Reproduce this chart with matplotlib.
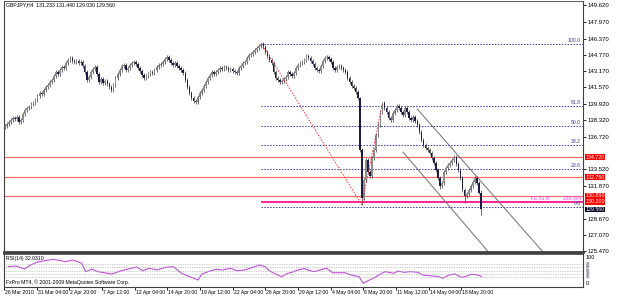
import matplotlib.pyplot as plt

plt.rcParams['font.family'] = ['Liberation Sans', 'DejaVu Sans']

# GBPJPY H4 closes, one per bar, bar 0 = 26 Mar 2010 12:00
closes = [
    137.57, 137.67, 137.77, 137.97, 138.16, 138.36, 138.56, 138.46, 138.66, 138.16,
    138.36, 138.95, 139.34, 139.54, 139.64, 139.93, 140.03, 140.33, 140.72, 141.02,
    140.92, 141.31, 141.61, 141.80, 142.10, 142.29, 142.69, 143.08, 142.88, 143.28,
    143.57, 143.47, 143.97, 144.26, 144.46, 144.16, 144.06, 144.16, 143.97, 144.06,
    143.67, 143.08, 142.29, 142.59, 143.08, 143.38, 143.57, 142.88, 142.10, 142.39,
    142.00, 142.20, 141.90, 141.61, 141.31, 141.80, 142.49, 142.88, 143.28, 143.67,
    143.77, 143.28, 143.47, 143.77, 143.97, 144.06, 143.87, 143.47, 143.18, 142.79,
    142.49, 142.69, 142.88, 143.08, 142.98, 143.28, 143.57, 143.77, 143.87, 144.06,
    144.36, 144.56, 144.26, 143.97, 143.77, 143.97, 143.67, 143.47, 143.28, 142.98,
    142.29, 141.61, 141.02, 140.53, 140.23, 140.13, 140.62, 141.02, 141.31, 141.70,
    142.10, 142.49, 142.79, 143.08, 142.88, 143.08, 143.28, 143.47, 143.38, 143.57,
    143.47, 143.28, 143.38, 143.18, 143.08, 142.98, 143.47, 143.67, 143.97, 144.06,
    144.46, 144.75, 144.85, 145.05, 145.24, 145.44, 145.64, 145.83, 145.54, 145.05,
    144.65, 144.26, 143.97, 143.08, 142.49, 142.29, 142.10, 142.20, 142.39, 142.59,
    143.08, 142.88, 142.69, 142.98, 143.47, 143.77, 143.97, 144.06, 144.26, 144.65,
    144.46, 144.16, 143.87, 143.47, 143.28, 143.18, 143.67, 144.16, 144.46, 144.56,
    144.36, 144.06, 143.47, 143.28, 143.57, 143.67, 143.47, 143.28, 143.08, 142.49,
    142.10, 141.70, 141.51, 141.11, 140.53, 135.41, 130.69, 132.46, 134.43, 133.25,
    132.85, 134.62, 135.41, 136.89, 137.87, 139.15, 140.03, 139.54, 139.15, 138.56,
    138.36, 139.05, 139.34, 139.74, 139.54, 139.15, 138.85, 139.54, 139.15, 138.56,
    138.36, 138.66, 138.26, 137.87, 137.18, 136.39, 135.90, 135.61, 135.41, 135.12,
    134.62, 134.13, 133.44, 132.66, 131.87, 132.17, 133.25, 133.64, 133.94, 134.13,
    134.43, 134.72, 134.03, 133.44, 132.66, 131.48, 130.89, 131.08, 131.48, 131.87,
    132.26, 132.66, 132.17, 131.23, 129.56,
]
first_open = 137.47
extra_highs = {127: 145.93, 186: 140.13, 175: 140.60, 234: 131.44}
extra_lows = {176: 130.00, 214: 131.60, 226: 130.20, 234: 129.03}

# RSI(14), sampled along the curve
rsi_bars = [2, 6, 10, 13, 17, 20, 24, 28, 30, 34, 38, 40, 43, 46, 50, 53, 57, 61, 65, 68,
            71, 75, 79, 83, 85, 87, 91, 95, 97, 101, 104, 107, 111, 114, 118, 122, 125, 128,
            130, 134, 136, 139, 141, 144, 147, 149, 152, 156, 158, 161, 164, 167, 170, 174,
            176, 179, 181, 185, 187, 191, 193, 196, 199, 203, 205, 209, 213, 215, 218, 221,
            224, 226, 229, 232, 234]
rsi_values = [61.5, 63.6, 54.5, 66.7, 76.7, 79.7, 83.9, 79.7, 76.7, 81.8, 71.8, 46.4, 54.5,
              46.4, 42.4, 39.4, 48.5, 54.5, 60.6, 49.4, 56.7, 51.5, 59.7, 61.5, 51.5, 41.5,
              31.2, 21.2, 39.4, 48.5, 53.6, 51.5, 56.7, 49.4, 51.5, 59.7, 66.7, 61.5, 49.4,
              36.4, 31.2, 41.5, 44.5, 51.5, 56.0, 51.5, 46.4, 53.6, 56.7, 43.3, 43.3, 43.3,
              36.4, 31.2, 11.2, 21.2, 26.4, 41.5, 46.4, 41.5, 48.5, 44.5, 46.4, 44.5, 36.4,
              34.2, 31.2, 26.4, 36.4, 39.4, 29.4, 31.2, 38.5, 36.4, 32.0]
rsi_levels = [70, 60, 50, 40, 30]

# objects drawn on the chart
fib_start = 127
fib_high = 145.83
fib_low = 129.80
fib_levels = [100.0, 61.8, 50.0, 38.2, 23.6, 0.0]
trend_bars = [127, 176, 186]
trend_prices = [145.93, 130.00, 140.03]
upper_chan_bars = [203, 265]
upper_chan_prices = [139.44, 125.20]
lower_chan_bars = [196, 238]
lower_chan_prices = [135.21, 125.30]
red_lines = [134.72, 132.75, 130.89]
fe_price = 130.30
fe_value = '130.064'
bid = 129.56

# 135.120 and 130.270 sit under the line labels, so they are not printed
price_ticks = [149.62, 147.97, 146.37, 144.77, 143.17, 141.57, 139.92, 138.32, 136.72,
               133.52, 131.87, 128.67, 127.07, 125.47]
date_bars = [0, 16, 32, 48, 64, 80, 96, 112, 128, 144, 160, 176, 192, 208, 224]
date_labels = ['26 Mar 2010', '31 Mar 04:00', '2 Apr 20:00', '7 Apr 12:00', '12 Apr 04:00',
               '14 Apr 20:00', '19 Apr 12:00', '22 Apr 04:00', '26 Apr 20:00', '29 Apr 12:00',
               '4 May 04:00', '6 May 20:00', '11 May 12:00', '14 May 04:00', '18 May 20:00']

W, H = 625, 298
fig = plt.figure(figsize=(W / 100, H / 100), dpi=100)
ax = fig.add_axes([4 / W, (H - 252) / H, 579 / W, 251 / H])
ax2 = fig.add_axes([4 / W, (H - 287) / H, 579 / W, 33 / H])
x0, x1 = 1.7, 283.7
small = 3.7

# candles
wick = 0.18
for i, c in enumerate(closes):
    o = closes[i - 1] if i > 0 else first_open
    hi = extra_highs.get(i, max(o, c) + wick)
    lo = extra_lows.get(i, min(o, c) - wick)
    ax.vlines(i, lo, hi, color='#353535', lw=0.5, zorder=3)
    col = '#8c8c8c' if c >= o else '#1c1c48'
    ax.bar(i, max(abs(c - o), 0.05), bottom=min(o, c), width=0.75, color=col,
           edgecolor='none', zorder=4)

# horizontal red lines
for p in red_lines:
    ax.axhline(p, color='#ff6a6a', lw=0.9, zorder=2)
ax.hlines(fe_price, fib_start, x1, color='#ff1493', lw=1.3, zorder=2)
ax.text(x1 - 1, fe_price + 0.08, 'FE 61.8' + ' ' * 10 + fe_value, color='#ff40ff',
        fontsize=small, ha='right', va='bottom', zorder=5)

# fibonacci retracement
for lvl in fib_levels:
    p = fib_low + (fib_high - fib_low) * lvl / 100
    ax.hlines(p, fib_start, x1, color='#3c3ca8', lw=0.7, linestyles=(0, (1.5, 1.5)), zorder=2)
    ax.text(x1 - 1, p + 0.08, '%.1f' % lvl, color='#3c3ca8', fontsize=small,
            ha='right', va='bottom', zorder=5)
ax.plot(trend_bars, trend_prices, color='#ff3030', lw=0.7, ls=(0, (1.5, 1.5)), zorder=5)

# channel
ax.plot(upper_chan_bars, upper_chan_prices, color='#707070', lw=0.7, zorder=2)
ax.plot(lower_chan_bars, lower_chan_prices, color='#707070', lw=0.7, zorder=2)

ax.set_xlim(x0, x1)
ax.set_ylim(125.38, 150.06)
ax.yaxis.tick_right()
ax.set_yticks(price_ticks)
ax.set_yticklabels(['%.3f' % p for p in price_ticks])
ax.tick_params(axis='y', labelsize=4.3, length=2, width=0.6, pad=1.5)
ax.set_xticks([])
for s in ['top', 'left', 'right', 'bottom']:
    ax.spines[s].set_color('#404040')
ax.spines['bottom'].set_linewidth(2)
ax.spines['top'].set_linewidth(0.6)

# axis boxes
box_font = dict(fontsize=3.8, ha='left', va='center', zorder=10, clip_on=False,
                transform=ax.get_yaxis_transform())
for p in red_lines + [fe_price]:
    ax.text(1.004, p, '%.3f' % p, color='white',
            bbox=dict(boxstyle='square,pad=0.06', fc='#ff0000', ec='none'), **box_font)
ax.text(1.004, bid, '%.3f' % bid, color='white',
        bbox=dict(boxstyle='square,pad=0.06', fc='#000020', ec='none'), **box_font)

ax.text(0.003, 0.993, 'GBPJPY,H4  131.233 131.440 129.030 129.560', transform=ax.transAxes,
        fontsize=small, va='top', ha='left')

# RSI panel
ax2.plot(rsi_bars, rsi_values, color='#c050d8', lw=0.8)
for lv in rsi_levels:
    ax2.axhline(lv, color='#a0a0a0', lw=0.5, ls=(0, (1, 1.5)))
    ax2.text(1.005, lv, str(lv), transform=ax2.get_yaxis_transform(), fontsize=2.6,
             va='center', ha='left', color='#404040', clip_on=False,
             bbox=dict(boxstyle='square,pad=0.05', fc='#dfe8f0', ec='none'))
ax2.set_xlim(x0, x1)
ax2.set_ylim(0, 100)
ax2.set_yticks([])
ax2.text(1.005, 0.97, '100', transform=ax2.transAxes, fontsize=4.0, va='top', ha='left')
ax2.text(1.005, 0.02, '0', transform=ax2.transAxes, fontsize=4.0, va='bottom', ha='left')
ax2.set_xticks(date_bars)
ax2.set_xticklabels([])
ax2.tick_params(axis='x', length=2, width=0.6)
for s in ['top', 'left', 'right', 'bottom']:
    ax2.spines[s].set_color('#404040')
ax2.spines['top'].set_linewidth(1.2)
for b, lab in zip(date_bars, date_labels):
    ax2.text(b + 0.5, -9, lab, fontsize=small, ha='left', va='top', clip_on=False)
ax2.text(0.004, 0.93, 'RSI(14) 32.0310', transform=ax2.transAxes, fontsize=small,
         va='top', ha='left')
ax2.text(0.004, 0.05, 'FxPro MT4, \u00a9 2001-2009 MetaQuotes Software Corp.',
         transform=ax2.transAxes, fontsize=small, va='bottom', ha='left')

fig.savefig('out.png', dpi=100, facecolor='white')
